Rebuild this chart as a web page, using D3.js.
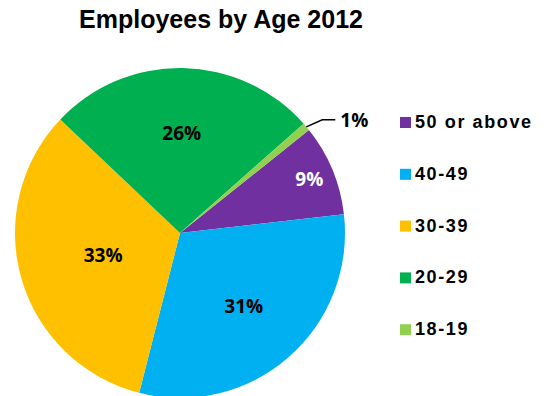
<!DOCTYPE html>
<html>
<head>
<meta charset="utf-8">
<script src="https://cdn.jsdelivr.net/npm/d3@7"></script>
<style>
body { margin: 0; background: #fff; }
</style>
</head>
<body>
<script>
// age groups, in the order of the data sheet (and legend)
var categories = ["50 or above", "40-49", "30-39", "20-29", "18-19"];
var shares = [8.9, 30.8, 33.1, 26.4, 0.8];
var colors = ["#7030A0", "#00B0F0", "#FFC000", "#00B050", "#92D050"];
var labelColors = ["#FFFFFF", "#000000", "#000000", "#000000", "#000000"];

var w = 544;
var h = 396;
var cx = 180;
var cy = 233;
var r = 165;

// how far from the centre each inside label sits (best-fit look of the original)
var labelRadius = [140, 97, 80, 100, 0];

var data = categories.map(function(c, i){
	return {name: c, value: shares[i], color: colors[i], labelColor: labelColors[i], lr: labelRadius[i]};
});

var svg = d3.select("body")
			.append("svg")
			.attr("width", w)
			.attr("height", h);

svg.append("text")
	.attr("x", 221)
	.attr("y", 28)
	.attr("text-anchor", "middle")
	.attr("font-family", "Liberation Sans, Arial, sans-serif")
	.attr("font-weight", "bold")
	.attr("font-size", "25px")
	.attr("fill", "#000")
	.text("Employees by Age 2012");

var startAngle = 51.4 * Math.PI / 180;

var pie = d3.pie()
			.sort(null)
			.value(function(d){ return d.value; })
			.startAngle(startAngle)
			.endAngle(startAngle + 2 * Math.PI);

var arcs = pie(data);

var arc = d3.arc()
			.innerRadius(0)
			.outerRadius(r);

var container = svg.append("g")
			.attr("transform", "translate(" + cx + "," + cy + ")");

container.selectAll("path")
	.data(arcs)
	.enter()
	.append("path")
	.attr("d", arc)
	.attr("fill", function(d){ return d.data.color; });

// labels inside the big slices
var inner = arcs.filter(function(d){ return d.data.value >= 5; });

container.selectAll("text.pct")
	.data(inner)
	.enter()
	.append("text")
	.classed("pct", true)
	.attr("transform", function(d){
		var lr = d.data.lr;
		var c = d3.arc().innerRadius(lr).outerRadius(lr).centroid(d);
		return "translate(" + c[0] + "," + c[1] + ")";
	})
	.attr("dy", "0.35em")
	.attr("text-anchor", "middle")
	.attr("font-family", "Open Sans, sans-serif")
	.attr("font-weight", "bold")
	.attr("font-size", "19px")
	.attr("fill", function(d){ return d.data.labelColor; })
	.text(function(d){ return Math.round(d.data.value) + "%"; });

// small slice: label outside with leader line
var small = arcs.filter(function(d){ return d.data.value < 5; });

small.forEach(function(d){
	var a = (d.startAngle + d.endAngle) / 2;
	var x0 = Math.sin(a) * r, y0 = -Math.cos(a) * r;
	var x1 = x0 + 16, y1 = y0 - 7;
	var x2 = x1 + 13;
	container.append("path")
		.attr("d", d3.line()([[x0, y0], [x1, y1], [x2, y1]]))
		.attr("fill", "none")
		.attr("stroke", "#000")
		.attr("stroke-width", 1.5);
	container.append("text")
		.attr("x", x2 + 5)
		.attr("y", y1)
		.attr("dy", "0.35em")
		.attr("font-family", "Open Sans, sans-serif")
		.attr("font-weight", "bold")
		.attr("font-size", "19px")
		.attr("fill", "#000")
		.text(Math.round(d.data.value) + "%");
});

// legend
var legend = svg.selectAll("g.legend")
			.data(data)
			.enter()
			.append("g")
			.classed("legend", true)
			.attr("transform", function(d, i){ return "translate(400," + (117 + i * 51.8) + ")"; });

legend.append("rect")
	.attr("width", 11)
	.attr("height", 11)
	.attr("fill", function(d){ return d.color; });

legend.append("text")
	.attr("x", 15)
	.attr("y", 11)
	.attr("font-family", "Liberation Sans, Arial, sans-serif")
	.attr("font-weight", "bold")
	.attr("font-size", "18px")
	.attr("letter-spacing", "1.6px")
	.attr("fill", "#000")
	.text(function(d){ return d.name; });
</script>
</body>
</html>
